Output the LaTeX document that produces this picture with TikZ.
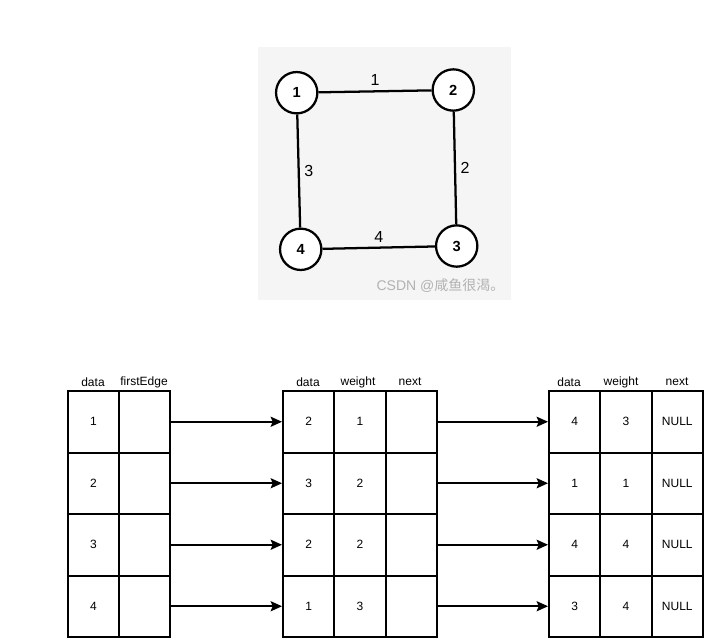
\documentclass[tikz,border=0pt]{standalone}
\usepackage{fontspec}
\setmainfont{Liberation Sans}
\newfontfamily\cjk{Noto Sans CJK SC}
\usetikzlibrary{arrows.meta}

\begin{document}
\begin{tikzpicture}[x=0.75pt,y=-0.75pt,
  vertex/.style={draw,circle,fill=white,line width=1.7pt,minimum size=31pt,inner sep=0pt,font=\bfseries\fontsize{11}{13}\selectfont},
  cell/.style={draw,line width=1.5pt,minimum width=38.5pt,minimum height=46.125pt,inner sep=0pt,font=\fontsize{9}{11}\selectfont},
  head/.style={font=\fontsize{9}{11}\selectfont},
  link/.style={line width=1.5pt,-{Stealth[length=8.5pt,width=7.5pt,inset=1.5pt]}},
  edge/.style={line width=1.7pt},
  weight/.style={font=\fontsize{12}{14}\selectfont}]
\useasboundingbox (0,0) rectangle (717,643);
% graph
\fill[black!4] (258,47) rectangle (511,300);
\node[vertex] (v1) at (296.7,92.7) {1};
\node[vertex] (v2) at (453.3,90) {2};
\node[vertex] (v3) at (456.7,246) {3};
\node[vertex] (v4) at (300.7,249.3) {4};
\draw[edge] (v1) -- node[midway,above,weight] {1} (v2);
\draw[edge] (v2) -- node[midway,right,weight] {2} (v3);
\draw[edge] (v1) -- node[midway,right,weight] {3} (v4);
\draw[edge] (v4) -- node[midway,above,weight] {4} (v3);
\node[text=black!30,font=\fontsize{10.5}{12}\selectfont] (mark) at (440.5,286) {CSDN @{\cjk 咸鱼很渴。}};
% headers
\node[head] (hLa) at (93,382) {data};
\node[head] (hLb) at (144,382) {firstEdge};
\node[head] (hMa) at (308,382) {data};
\node[head] (hMb) at (358,382) {weight};
\node[head] (hMc) at (410,382) {next};
\node[head] (hRa) at (569,382) {data};
\node[head] (hRb) at (621,382) {weight};
\node[head] (hRc) at (677,382) {next};
% vertex table
\foreach \d [count=\i] in {1,2,3,4} {
  \node[cell] (La\i) at (93.5,{391+61.5*(\i-0.5)}) {\d};
  \node[cell] (Lb\i) at (144.5,{391+61.5*(\i-0.5)}) {};
}
% first edge nodes
\foreach \d/\w [count=\i] in {2/1,3/2,2/2,1/3} {
  \node[cell] (Ma\i) at (308.7,{391+61.5*(\i-0.5)}) {\d};
  \node[cell] (Mb\i) at (360,{391+61.5*(\i-0.5)}) {\w};
  \node[cell] (Mc\i) at (411.3,{391+61.5*(\i-0.5)}) {};
}
% second edge nodes
\foreach \d/\w [count=\i] in {4/3,1/1,4/4,3/4} {
  \node[cell] (Ra\i) at (574.7,{391+61.5*(\i-0.5)}) {\d};
  \node[cell] (Rb\i) at (626,{391+61.5*(\i-0.5)}) {\w};
  \node[cell] (Rc\i) at (677.3,{391+61.5*(\i-0.5)}) {NULL};
}
\foreach \i in {1,...,4} {
  \draw[link] (Lb\i) -- (Ma\i);
  \draw[link] (Mc\i) -- (Ra\i);
}
\end{tikzpicture}
\end{document}
